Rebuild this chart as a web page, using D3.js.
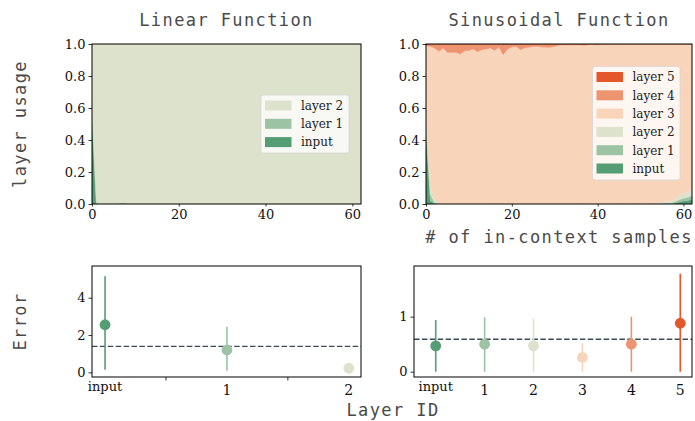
<!DOCTYPE html>
<html>
<head>
<meta charset="utf-8">
<script src="https://cdn.jsdelivr.net/npm/d3@7"></script>
<style>
  html, body { margin: 0; padding: 0; background: #ffffff; }
  svg { display: block; }
</style>
</head>
<body>
<svg id="chart" width="695" height="421"></svg>
<script>
// ---------------- DATA ----------------
const sampleIdx = d3.range(63); // in-context sample index 0..62

// Linear function: layer usage
const linInput = [
  0.55,0,0,0,0,0,0,0,0,0,0,0,0,0,0,0,0,0,0,0,0,
  0,0,0,0,0,0,0,0,0,0,0,0,0,0,0,0,0,0,0,0,0,
  0,0,0,0,0,0,0,0,0,0,0,0,0,0,0,0,0,0,0,0,0
];
const linLayer1 = [
  0.03,0.01,0,0,0,0,0.003,0.008,0.003,0,0,0,0,0,0,0,0,0,0,0,0,
  0,0,0,0,0,0,0,0,0,0,0,0,0,0,0,0,0,0,0,0,0,
  0,0,0,0,0,0,0,0,0,0,0,0,0,0,0,0,0,0,0,0,0
];
const linLayer2 = [
  0.42,0.99,1,1,1,1,0.997,0.992,0.997,1,1,1,1,1,1,1,1,1,1,1,1,
  1,1,1,1,1,1,1,1,1,1,1,1,1,1,1,1,1,1,1,1,1,
  1,1,1,1,1,1,1,1,1,1,1,1,1,1,1,1,1,1,1,1,1
];

// Sinusoidal function: layer usage
const sinInput = [
  0.45,0.02,0,0,0,0,0,0,0,0,0,0,0,0,0,0,0,0,0,0,0,
  0,0,0,0,0,0,0,0,0,0,0,0,0,0,0,0,0,0,0,0,0,
  0,0,0,0,0,0,0,0,0,0,0,0,0,0,0,0,0.005,0.012,0.018,0.022,0.028
];
const sinLayer1 = [
  0.05,0.04,0.01,0,0,0,0,0,0,0,0,0,0,0,0,0,0,0,0,0,0,
  0,0,0,0,0,0,0,0,0,0,0,0,0,0,0,0,0,0,0,0,0,
  0,0,0,0,0,0,0,0,0,0,0,0,0,0.003,0.006,0.004,0.01,0.015,0.018,0.02,0.025
];
const sinLayer2 = [
  0.02,0.05,0.02,0.005,0,0,0,0,0,0,0,0,0,0,0,0,0,0,0,0,0,
  0,0,0,0,0,0,0,0,0,0,0,0,0,0,0,0,0,0,0,0,0,
  0,0,0,0,0,0,0,0,0,0,0,0,0.003,0.008,0.01,0.008,0.02,0.028,0.03,0.033,0.035
];
const sinLayer3 = [
  0.471,0.875,0.945,0.949,0.975,0.947,0.947,0.947,0.937,0.958,0.960,0.968,0.952,0.964,0.968,0.975,0.960,0.979,0.933,0.968,0.981,
  0.985,0.964,0.975,0.979,0.985,0.985,0.981,0.979,0.979,0.985,0.992,0.994,0.994,0.994,0.994,0.994,0.990,0.998,0.998,0.994,1,
  1,1,1,1,1,1,1,1,1,1,1,1,0.997,0.989,0.984,0.988,0.965,0.945,0.934,0.925,0.912
];
const sinLayer4 = [
  0.004,0.015,0.025,0.046,0.025,0.053,0.053,0.053,0.063,0.042,0.040,0.032,0.048,0.036,0.032,0.025,0.040,0.021,0.067,0.032,0.019,
  0.015,0.036,0.025,0.021,0.015,0.015,0.019,0.021,0.021,0.015,0.008,0.006,0.006,0.006,0.006,0.006,0.010,0.002,0.002,0.006,0,
  0,0,0,0,0,0,0,0,0,0,0,0,0,0,0,0,0,0,0,0,0
];
const sinLayer5 = [
  0.005,0,0,0,0,0,0,0,0,0,0,0,0,0,0,0,0,0,0,0,0,
  0,0,0,0,0,0,0,0,0,0,0,0,0,0,0,0,0,0,0,0,0,
  0,0,0,0,0,0,0,0,0,0,0,0,0,0,0,0,0,0,0,0,0
];

// Error per layer
const linLayerIds = ["input", "1", "2"];
const linErrMean = [2.55, 1.20, 0.22];
const linErrLow  = [0.14, 0.08, 0.22];
const linErrHigh = [5.15, 2.45, 0.22];
const linErrRef = 1.39;

const sinLayerIds = ["input", "1", "2", "3", "4", "5"];
const sinErrMean = [0.47, 0.50, 0.47, 0.26, 0.50, 0.88];
const sinErrLow  = [0.00, 0.00, 0.00, 0.00, 0.00, 0.00];
const sinErrHigh = [0.94, 0.99, 0.96, 0.52, 1.00, 1.78];
const sinErrRef = 0.59;

const layerNames = ["input", "layer 1", "layer 2", "layer 3", "layer 4", "layer 5"];
const layerColors = ["#559d74", "#9cc3a4", "#dde2cc", "#f8d4ba", "#ef9470", "#e3572b"];

const usageTicks = [0, 0.2, 0.4, 0.6, 0.8, 1.0];
const sampleTicks = [0, 20, 40, 60];

// ---------------- DRAWING ----------------
const svg = d3.select("#chart");
const serif = "'DejaVu Serif', serif";
const mono = "'DejaVu Sans Mono', monospace";

function frame(g, x0, x1, y0, y1) {
  g.append("rect").attr("x", x0).attr("y", y0).attr("width", x1 - x0).attr("height", y1 - y0)
    .attr("fill", "none").attr("stroke", "#000").attr("stroke-width", 1);
}

function styleAxis(sel, fontSize) {
  sel.select(".domain").remove();
  sel.selectAll(".tick line").attr("stroke", "#000").attr("stroke-width", 0.8);
  sel.selectAll(".tick text").attr("font-family", serif).attr("font-size", fontSize).attr("fill", "#111");
}

function usagePanel(cfg) {
  const { left, right, top, bottom, series, title, legendBox } = cfg;
  const x = d3.scaleLinear().domain([0, 62]).range([left, right]);
  const y = d3.scaleLinear().domain([0, 1]).range([bottom, top]);
  const rows = sampleIdx.map((i) => {
    const r = { i };
    series.forEach((s) => { r[s.name] = s.values[i]; });
    return r;
  });
  const stack = d3.stack().keys(series.map((s) => s.name));
  const stacked = stack(rows);
  const area = d3.area().x((d) => x(d.data.i)).y0((d) => y(d[0])).y1((d) => y(d[1]));
  const g = svg.append("g");
  g.append("defs").append("clipPath").attr("id", "clip" + left)
    .append("rect").attr("x", left).attr("y", top).attr("width", right - left).attr("height", bottom - top);
  const ga = g.append("g").attr("clip-path", `url(#clip${left})`);
  stacked.forEach((layer, k) => {
    ga.append("path").datum(layer).attr("d", area)
      .attr("fill", series[k].color).attr("stroke", series[k].color).attr("stroke-width", 0.4);
  });
  frame(g, left, right, top, bottom);
  const ax = g.append("g").attr("transform", `translate(0,${bottom})`)
    .call(d3.axisBottom(x).tickValues(sampleTicks).tickSize(2.5).tickPadding(3.5).tickFormat(d3.format("d")));
  styleAxis(ax, 13);
  const ay = g.append("g").attr("transform", `translate(${left},0)`)
    .call(d3.axisLeft(y).tickValues(usageTicks).tickSize(3.5).tickPadding(3).tickFormat(d3.format(".1f")));
  styleAxis(ay, 13);
  // title
  g.append("text").attr("x", (left + right) / 2).attr("y", 26).attr("text-anchor", "middle")
    .attr("font-family", mono).attr("font-size", 17).attr("letter-spacing", 1.4).attr("fill", "#4a4a4a")
    .text(title);
  // legend (reverse order, top layer first)
  const lb = legendBox;
  const lg = g.append("g");
  lg.append("rect").attr("x", lb.x).attr("y", lb.y).attr("width", lb.w).attr("height", lb.h)
    .attr("rx", 2.5).attr("fill", "rgba(255,255,255,0.8)").attr("stroke", "#d6d6d6").attr("stroke-width", 0.8);
  const items = series.slice().reverse();
  items.forEach((s, k) => {
    const cy = lb.y + 10.5 + k * 18.3;
    lg.append("rect").attr("x", lb.x + 4).attr("y", cy - 5).attr("width", 26.5).attr("height", 10)
      .attr("fill", s.color);
    lg.append("text").attr("x", lb.x + 40).attr("y", cy + 4.3).attr("font-family", serif)
      .attr("font-size", 12).attr("fill", "#222").text(s.label);
  });
}

usagePanel({
  left: 92, right: 361, top: 44, bottom: 204, title: "Linear Function",
  series: [
    { name: "input", label: "input", values: linInput, color: layerColors[0] },
    { name: "l1", label: "layer 1", values: linLayer1, color: layerColors[1] },
    { name: "l2", label: "layer 2", values: linLayer2, color: layerColors[2] }
  ],
  legendBox: { x: 261, y: 95, w: 88, h: 58 }
});

usagePanel({
  left: 426, right: 692, top: 44, bottom: 204, title: "Sinusoidal Function",
  series: [
    { name: "input", label: "input", values: sinInput, color: layerColors[0] },
    { name: "l1", label: "layer 1", values: sinLayer1, color: layerColors[1] },
    { name: "l2", label: "layer 2", values: sinLayer2, color: layerColors[2] },
    { name: "l3", label: "layer 3", values: sinLayer3, color: layerColors[3] },
    { name: "l4", label: "layer 4", values: sinLayer4, color: layerColors[4] },
    { name: "l5", label: "layer 5", values: sinLayer5, color: layerColors[5] }
  ],
  legendBox: { x: 592.5, y: 66.5, w: 87.5, h: 113.5 }
});

function errorPanel(cfg) {
  const { left, right, top, bottom, xDomain, yDomain, ids, mean, low, high, ref, yTicks, halfTicks } = cfg;
  const x = d3.scaleLinear().domain(xDomain).range([left, right]);
  const y = d3.scaleLinear().domain(yDomain).range([bottom, top]);
  const g = svg.append("g");
  ref !== null && g.append("line").attr("x1", left).attr("x2", right).attr("y1", y(ref)).attr("y2", y(ref))
    .attr("stroke", "#3b4c55").attr("stroke-width", 1.3).attr("stroke-dasharray", "5.5,2.4");
  ids.forEach((id, k) => {
    const c = layerColors[k];
    g.append("line").attr("x1", x(k)).attr("x2", x(k)).attr("y1", y(low[k])).attr("y2", y(high[k]))
      .attr("stroke", c).attr("stroke-width", 1.6);
    g.append("circle").attr("cx", x(k)).attr("cy", y(mean[k])).attr("r", 5.4).attr("fill", c);
  });
  frame(g, left, right, top, bottom);
  const ay = g.append("g").attr("transform", `translate(${left},0)`)
    .call(d3.axisLeft(y).tickValues(yTicks).tickSize(3.5).tickPadding(3).tickFormat(d3.format("d")));
  styleAxis(ay, 13);
  // half-step tick marks
  halfTicks.forEach((t) => {
    g.append("line").attr("x1", x(t)).attr("x2", x(t)).attr("y1", bottom).attr("y2", bottom + 3.5)
      .attr("stroke", "#000").attr("stroke-width", 0.8);
  });
  ids.forEach((id, k) => {
    const isWord = isNaN(+id);
    g.append("text").attr("x", x(k)).attr("y", isWord ? bottom + 14 : bottom + 18)
      .attr("text-anchor", "middle").attr("font-family", serif)
      .attr("font-size", isWord ? 13 : 14).attr("fill", "#111").text(id);
  });
}

errorPanel({
  left: 92, right: 361, top: 266, bottom: 377, xDomain: [-0.107, 2.1], yDomain: [-0.25, 5.7],
  ids: linLayerIds, mean: linErrMean, low: linErrLow, high: linErrHigh, ref: linErrRef,
  yTicks: [0, 2, 4], halfTicks: [0.5, 1.5]
});

errorPanel({
  left: 414, right: 692, top: 266, bottom: 377, xDomain: [-0.444, 5.24], yDomain: [-0.096, 1.92],
  ids: sinLayerIds, mean: sinErrMean, low: sinErrLow, high: sinErrHigh, ref: sinErrRef,
  yTicks: [0, 1], halfTicks: []
});

// axis titles
const lab = (x, y, rot, txt, anchor) => svg.append("text")
  .attr("transform", `translate(${x},${y}) rotate(${rot})`).attr("text-anchor", anchor || "middle")
  .attr("font-family", mono).attr("font-size", 17).attr("letter-spacing", 1.4).attr("fill", "#4a4a4a").text(txt);
lab(26, 124, -90, "layer usage");
lab(26, 321.5, -90, "Error");
lab(559, 243, 0, "# of in-context samples");
lab(393, 416, 0, "Layer ID");
</script>
</body>
</html>
